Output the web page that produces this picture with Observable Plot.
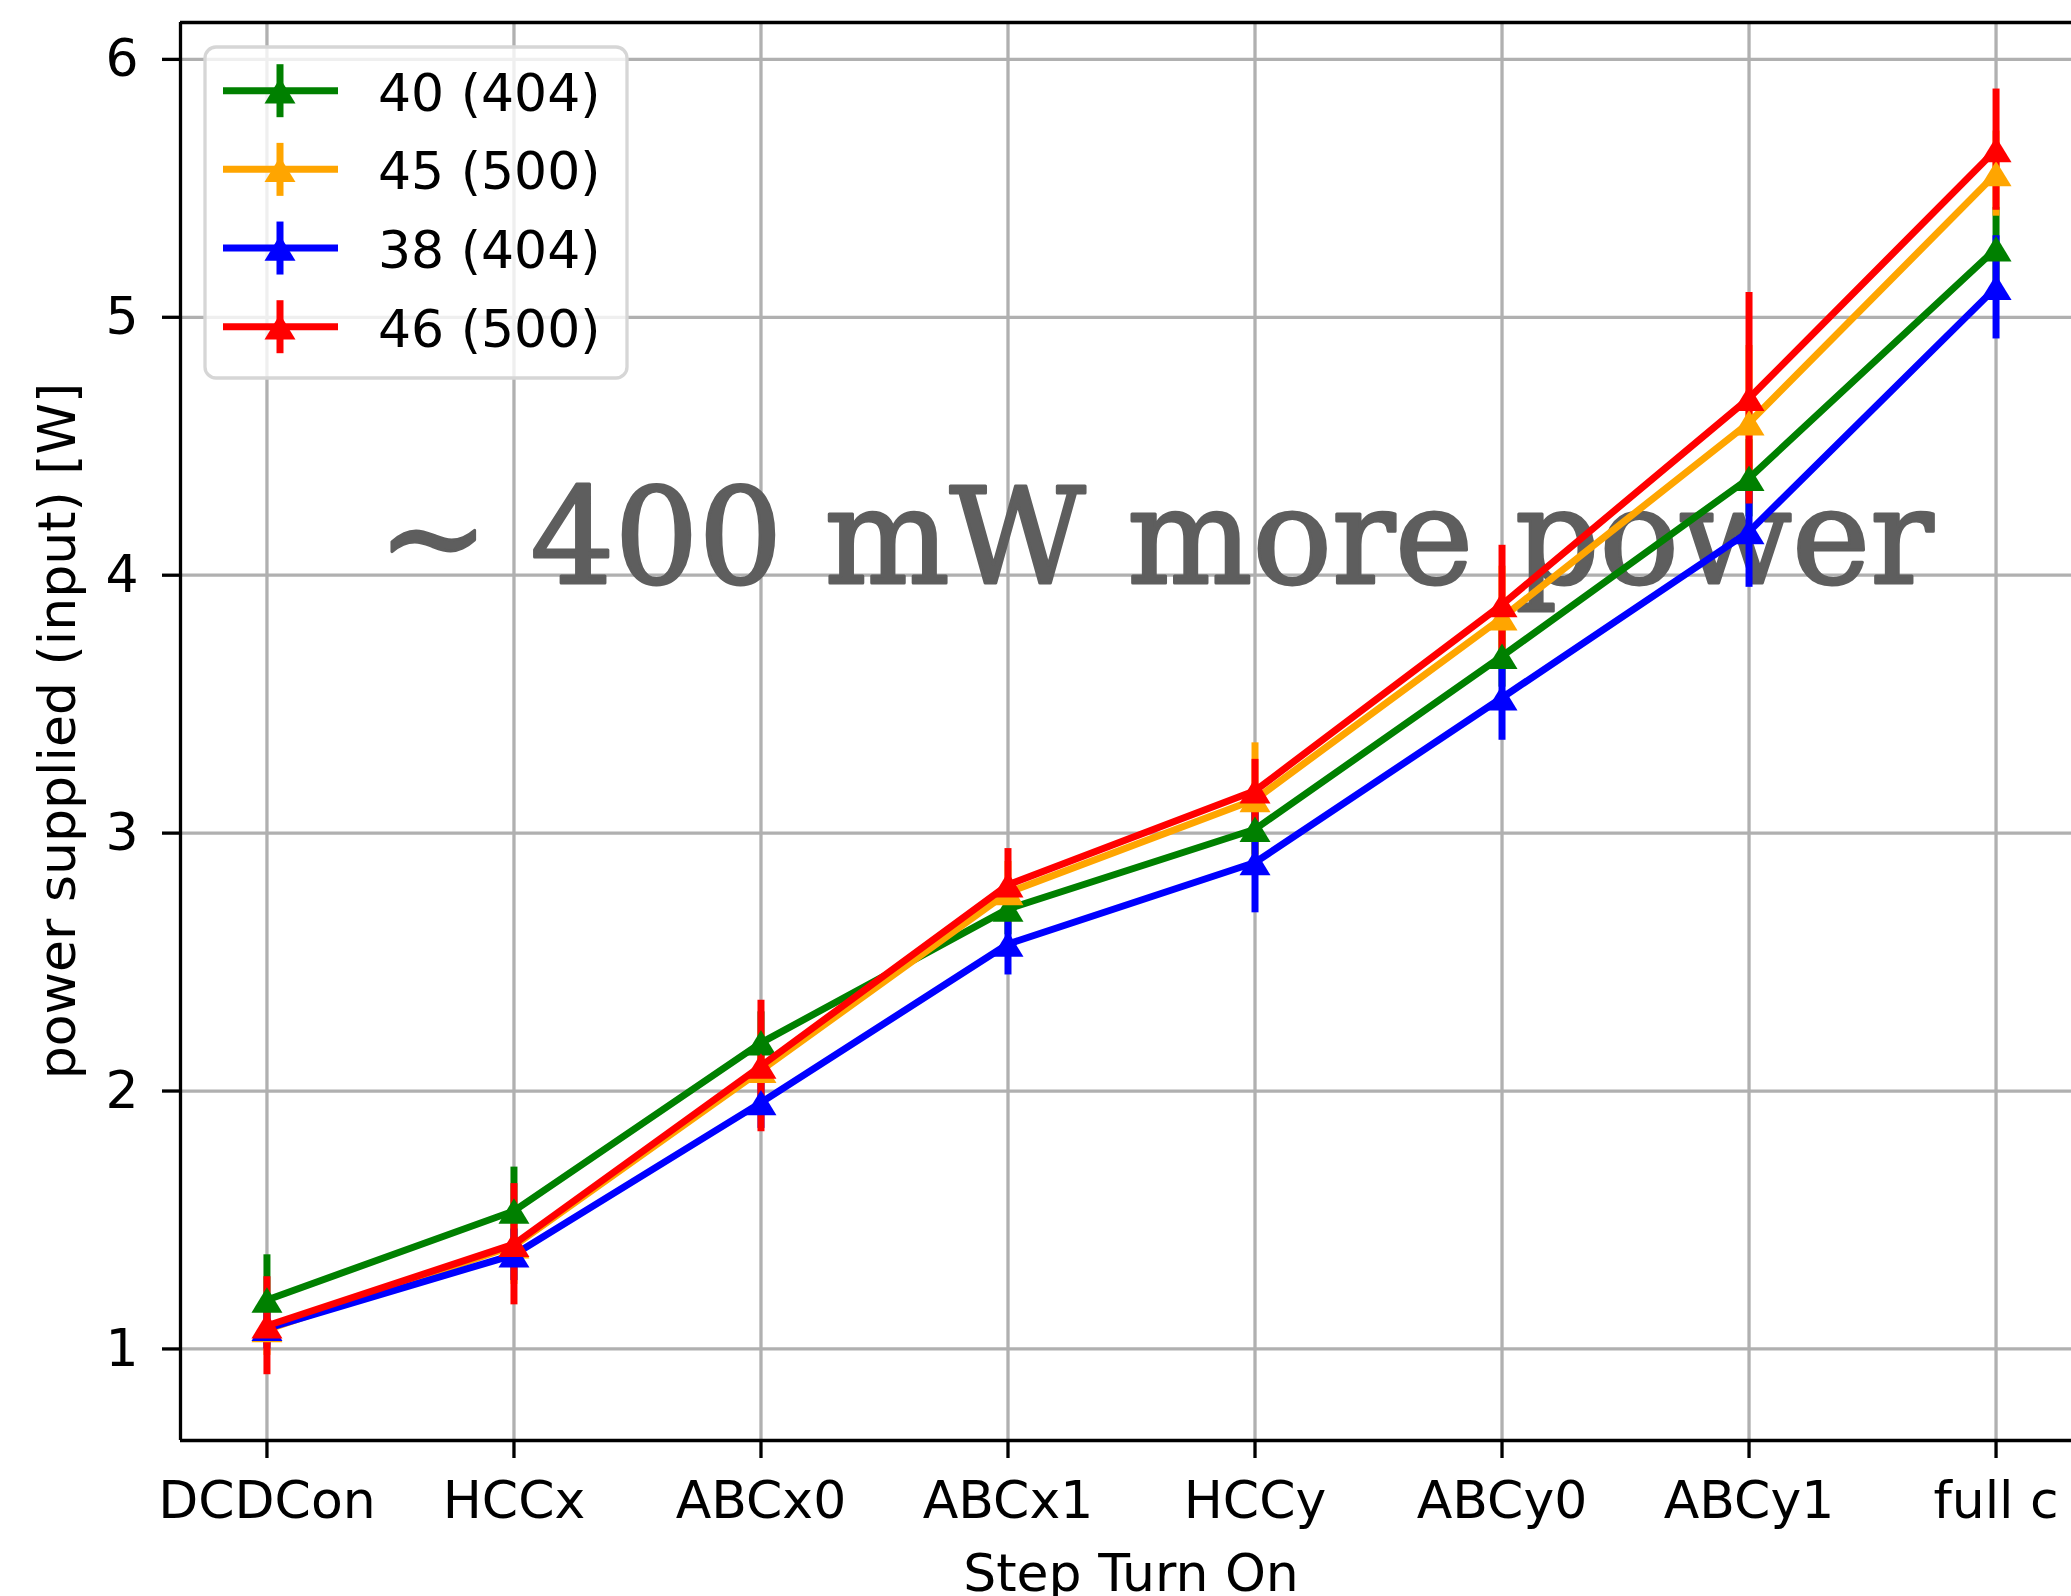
<!DOCTYPE html>
<html><head><meta charset="utf-8">
<script src="https://cdn.jsdelivr.net/npm/d3@7"></script>
<script src="https://cdn.jsdelivr.net/npm/@observablehq/plot@0.6"></script>
<style>html,body{margin:0;padding:0;background:#fff}svg{display:block}</style>
</head><body><div id="chart"></div>
<script>
// ---- data ----
const categories = ["DCDCon", "HCCx", "ABCx0", "ABCx1", "HCCy", "ABCy0", "ABCy1", "full c"];
const seriesNames = ["40 (404)", "45 (500)", "38 (404)", "46 (500)"];
const seriesColors = ["green", "orange", "blue", "red"];
const values40 = [1.19, 1.535, 2.187, 2.706, 3.015, 3.686, 4.376, 5.266];
const errors40 = [0.175, 0.17, 0.12, 0.10, 0.10, 0.12, 0.15, 0.16];
const values45 = [1.075, 1.40, 2.08, 2.77, 3.13, 3.835, 4.591, 5.557];
const errors45 = [0.10, 0.15, 0.15, 0.12, 0.22, 0.20, 0.30, 0.165];
const values38 = [1.08, 1.365, 1.955, 2.57, 2.886, 3.525, 4.169, 5.116];
const errors38 = [0.08, 0.10, 0.10, 0.12, 0.195, 0.165, 0.216, 0.20];
const values46 = [1.09, 1.406, 2.097, 2.80, 3.164, 3.886, 4.686, 5.65];
const errors46 = [0.19, 0.235, 0.255, 0.14, 0.122, 0.23, 0.41, 0.235];
const yTicks = [1, 2, 3, 4, 5, 6];
const xLabel = "Step Turn On";
const yLabel = "power supplied (input) [W]";
const annotation = "~ 400 mW more power";

const allValues = [values40, values45, values38, values46];
const allErrors = [errors40, errors45, errors38, errors46];
const xTicks = categories.map((_, i) => i);

const rows = [];
seriesNames.forEach((s, k) => categories.forEach((c, i) => {
  rows.push({series: s, color: seriesColors[k], i, v: allValues[k][i], e: allErrors[k][i]});
}));

// ---- layout ----
const W = 2071, H = 1596;
const mLeft = 180, mTop = 22, mBottom = H - 1440;
const xDomain = [-0.35, 7.35];
const yDomain = [0.645, 6.143];
const LW = 7;
const TR = 15.5, TH = 0.82;

const tri = {draw(ctx, size) {
  const r = Math.sqrt(size / Math.PI), hw = r, hh = r * TH;
  ctx.moveTo(0, -hh); ctx.lineTo(hw, hh); ctx.lineTo(-hw, hh); ctx.closePath();
}};

function annotationMark() {
  return d3.create("svg:text")
    .attr("x", 378).attr("y", 583).attr("text-anchor", "start")
    .attr("font-family", "DejaVu Serif").attr("font-size", 132)
    .attr("fill", "#5e5e5e").attr("stroke", "#5e5e5e").attr("stroke-width", 3)
    .attr("stroke-linejoin", "round")
    .text(annotation).node();
}

function legendMark() {
  const g = d3.create("svg:g");
  g.append("rect").attr("x", 205).attr("y", 47).attr("width", 422).attr("height", 331)
    .attr("rx", 11).attr("fill", "white").attr("fill-opacity", 0.8)
    .attr("stroke", "#d6d6d6").attr("stroke-width", 3.3);
  seriesNames.forEach((s, k) => {
    const y = 90.7 + k * 78.67, c = seriesColors[k];
    g.append("line").attr("x1", 280).attr("x2", 280).attr("y1", y - 26.5).attr("y2", y + 26.5)
      .attr("stroke", c).attr("stroke-width", LW);
    g.append("line").attr("x1", 223).attr("x2", 338).attr("y1", y).attr("y2", y)
      .attr("stroke", c).attr("stroke-width", LW);
    const hh = TR * TH;
    g.append("path").attr("d", `M280,${y - hh}L${280 + TR},${y + hh}L${280 - TR},${y + hh}Z`).attr("fill", c);
    g.append("text").attr("x", 378).attr("y", y + 20).attr("font-size", 52).attr("text-anchor", "start")
      .attr("font-family", "DejaVu Sans").attr("fill", "black").text(s);
  });
  return g.node();
}

function labelsMark() {
  const g = d3.create("svg:g");
  g.append("text").attr("transform", `translate(75,${(mTop + 1440) / 2}) rotate(-90)`)
    .attr("text-anchor", "middle").attr("font-size", 52).attr("font-family", "DejaVu Sans")
    .attr("fill", "black").text(yLabel);
  g.append("text").attr("x", 1131).attr("y", 1591)
    .attr("text-anchor", "middle").attr("font-size", 52).attr("font-family", "DejaVu Sans")
    .attr("fill", "black").text(xLabel);
  return g.node();
}

const marks = [
  Plot.gridX(xTicks, {stroke: "#b0b0b0", strokeOpacity: 1, strokeWidth: 3.3}),
  Plot.gridY(yTicks, {stroke: "#b0b0b0", strokeOpacity: 1, strokeWidth: 3.3}),
  annotationMark
];
seriesNames.forEach((s, k) => {
  marks.push(Plot.ruleX(rows.filter(d => d.series === s),
    {x: "i", y1: d => d.v - d.e, y2: d => d.v + d.e, stroke: seriesColors[k], strokeWidth: LW}));
});
seriesNames.forEach((s, k) => {
  const data = rows.filter(d => d.series === s);
  marks.push(Plot.line(data, {x: "i", y: "v", stroke: seriesColors[k], strokeWidth: LW, strokeLinejoin: "round"}));
  marks.push(Plot.dot(data, {x: "i", y: "v", symbol: tri, r: TR, fill: seriesColors[k], stroke: "none"}));
});
marks.push(
  Plot.ruleY([yDomain[0], yDomain[1]], {stroke: "black", strokeWidth: 3.3}),
  Plot.ruleX([xDomain[0]], {stroke: "black", strokeWidth: 3.3}),
  Plot.axisX(xTicks, {tickFormat: i => categories[i], tickSize: 18, tickPadding: 23, fontSize: 52, strokeWidth: 3.3, label: null, stroke: "black", fill: "black"}),
  Plot.axisY(yTicks, {tickFormat: d => String(d), tickSize: 18, tickPadding: 24, fontSize: 52, strokeWidth: 3.3, label: null, stroke: "black", fill: "black"}),
  labelsMark,
  legendMark
);

const chart = Plot.plot({
  width: W, height: H,
  marginLeft: mLeft, marginTop: mTop, marginBottom: mBottom, marginRight: 0,
  style: {fontFamily: "DejaVu Sans", fontSize: "52px", background: "white", overflow: "visible"},
  x: {type: "linear", domain: xDomain, range: [mLeft, 2082], axis: null},
  y: {type: "linear", domain: yDomain, range: [1440, mTop], axis: null},
  marks
});
document.getElementById("chart").appendChild(chart);
</script></body></html>
